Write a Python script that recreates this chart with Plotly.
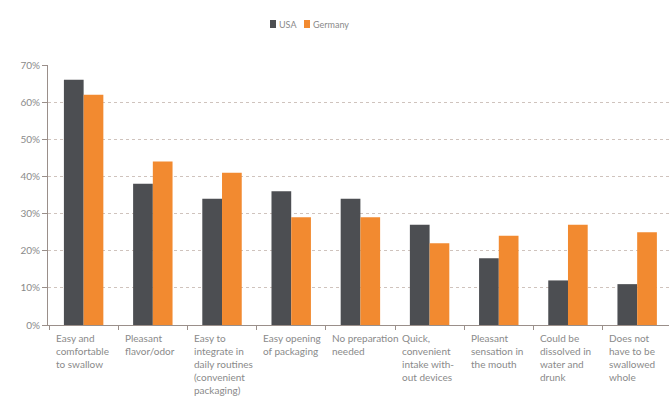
import plotly.graph_objects as go

categories = [
    "Easy and<br>comfortable<br>to swallow",
    "Pleasant<br>flavor/odor",
    "Easy to<br>integrate in<br>daily routines<br>(convenient<br>packaging)",
    "Easy opening<br>of packaging",
    "No preparation<br>needed",
    "Quick,<br>convenient<br>intake with-<br>out devices",
    "Pleasant<br>sensation in<br>the mouth",
    "Could be<br>dissolved in<br>water and<br>drunk",
    "Does not<br>have to be<br>swallowed<br>whole",
]
series_names = ["USA", "Germany"]
series_colors = ["#4c4e52", "#f28a30"]
usa = [66, 38, 34, 36, 34, 27, 18, 12, 11]
germany = [62, 44, 41, 29, 29, 22, 24, 27, 25]
y_ticks = [0, 10, 20, 30, 40, 50, 60, 70]
y_tick_labels = [f"{v}%" for v in y_ticks]

idx = list(range(len(categories)))
W, H = 669, 402
ML, MR, MT, MB = 48, 0, 65, 77
PW, PH = W - ML - MR, H - MT - MB

fig = go.Figure()
for name, vals, col in zip(series_names, [usa, germany], series_colors):
    fig.add_trace(go.Bar(x=idx, y=vals, name=name, marker=dict(color=col, line=dict(width=0)),
                         showlegend=False))

font_family = "Lato, sans-serif"
for i, lab in zip(idx, categories):
    fig.add_annotation(
        x=i, y=0, xref="x", yref="y", text=lab, showarrow=False,
        xanchor="left", yanchor="top", align="left", xshift=-30, yshift=-5,
        font=dict(family=font_family, size=10, color="#8a8a8a"),
    )

# custom compact legend
leg_px = [270, 304]
for name, col, px in zip(series_names, series_colors, leg_px):
    x0 = (px - ML) / PW
    x1 = (px + 6 - ML) / PW
    y0 = 1 + (MT - 28) / PH
    y1 = 1 + (MT - 20) / PH
    fig.add_shape(type="rect", xref="paper", yref="paper", x0=x0, x1=x1, y0=y0, y1=y1,
                  fillcolor=col, line=dict(width=0))
    fig.add_annotation(x=(px + 7 - ML) / PW, y=1 + (MT - 24) / PH, xref="paper", yref="paper",
                       text=name, showarrow=False, xanchor="left", yanchor="middle",
                       font=dict(family=font_family, size=9, color="#8a8a8a"))

fig.update_layout(
    width=W, height=H,
    margin=dict(l=ML, r=MR, t=MT, b=MB),
    paper_bgcolor="white", plot_bgcolor="white",
    barmode="group", bargap=0.43, bargroupgap=0,
    font=dict(family=font_family, size=10, color="#8a8a8a"),
    showlegend=False,
)
fig.update_xaxes(
    range=[-0.515, 8.46], tickmode="array", tickvals=[i + 0.5 for i in idx[:-1]] + [-0.5],
    showticklabels=False, ticks="outside", ticklen=4, tickcolor="#9a8f8a",
    showline=True, linecolor="#9a8f8a", linewidth=1, showgrid=False, zeroline=False,
)
fig.update_yaxes(
    range=[0, 70], tickmode="array", tickvals=y_ticks, ticktext=y_tick_labels,
    ticks="outside", ticklen=5, tickcolor="#9a8f8a",
    showline=True, linecolor="#9a8f8a", linewidth=1,
    showgrid=True, gridcolor="#cfc3bd", griddash="dot", gridwidth=1, zeroline=False,
    tickfont=dict(size=10, color="#8a8a8a"),
)

fig.write_html("out.html")
